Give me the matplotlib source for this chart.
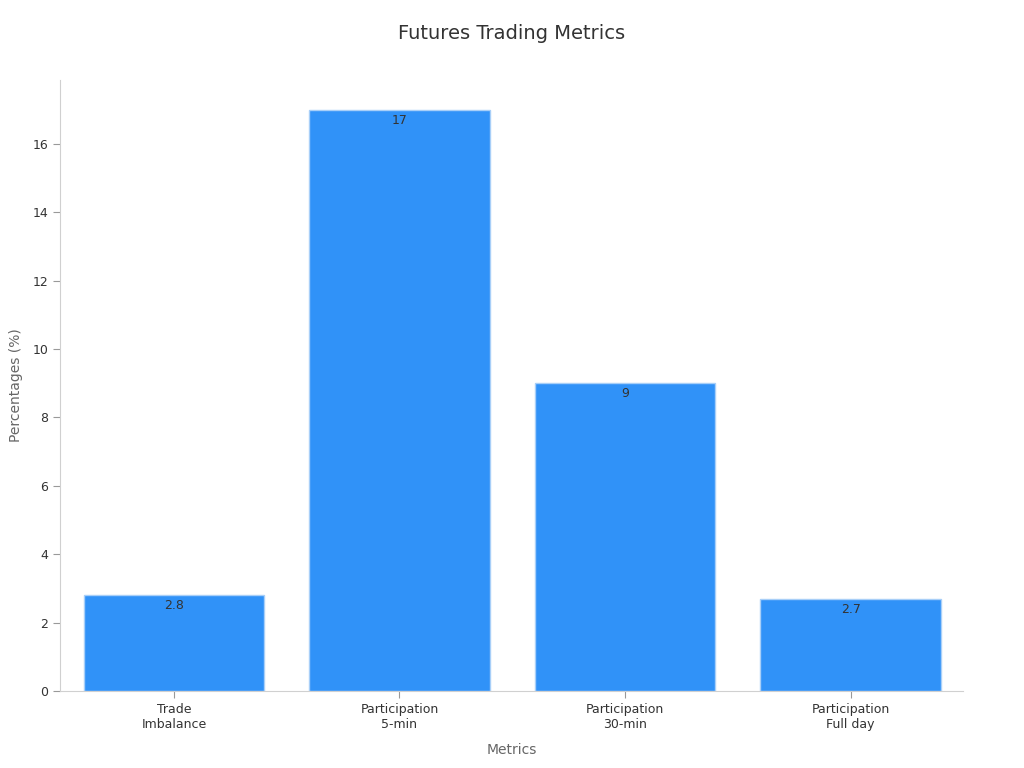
import matplotlib
matplotlib.use("Agg")
import matplotlib.pyplot as plt

categories = ["Trade\nImbalance", "Participation\n5-min", "Participation\n30-min", "Participation\nFull day"]
values = [2.8, 17, 9, 2.7]
value_labels = ["2.8", "17", "9", "2.7"]

plt.rcParams['font.family'] = ['DejaVu Sans']
fig = plt.figure(figsize=(10.24, 7.68), dpi=100)
ax = fig.add_axes([0.0586, 0.1003, 0.8818, 0.7957])

x = range(len(categories))
bars = ax.bar(x, values, width=0.8, color="#3092F8", edgecolor="#a8cff8", linewidth=1)
for b, lab in zip(bars, value_labels):
    ax.text(b.get_x() + b.get_width() / 2, b.get_height() - 0.12, lab,
            ha="center", va="top", fontsize=9, color="#333333")

ax.set_xlim(-0.505, 3.498)
ax.set_ylim(0, 17.87)
ax.set_yticks(range(0, 17, 2))
ax.set_xticks(list(x))
ax.set_xticklabels(categories, fontsize=9, color="#333333")
ax.tick_params(axis="y", labelsize=9, labelcolor="#333333", color="#999999", length=5)
ax.tick_params(axis="x", color="#999999", length=5)
for s in ["top", "right"]:
    ax.spines[s].set_visible(False)
for s in ["left", "bottom"]:
    ax.spines[s].set_color("#d0d0d0")
ax.set_xlabel("Metrics", fontsize=10, color="#666666", labelpad=9)
ax.set_ylabel("Percentages (%)", fontsize=10, color="#666666", labelpad=7)
fig.suptitle("Futures Trading Metrics", fontsize=14, color="#333333", y=0.969)

fig.savefig("out.png", dpi=100)
